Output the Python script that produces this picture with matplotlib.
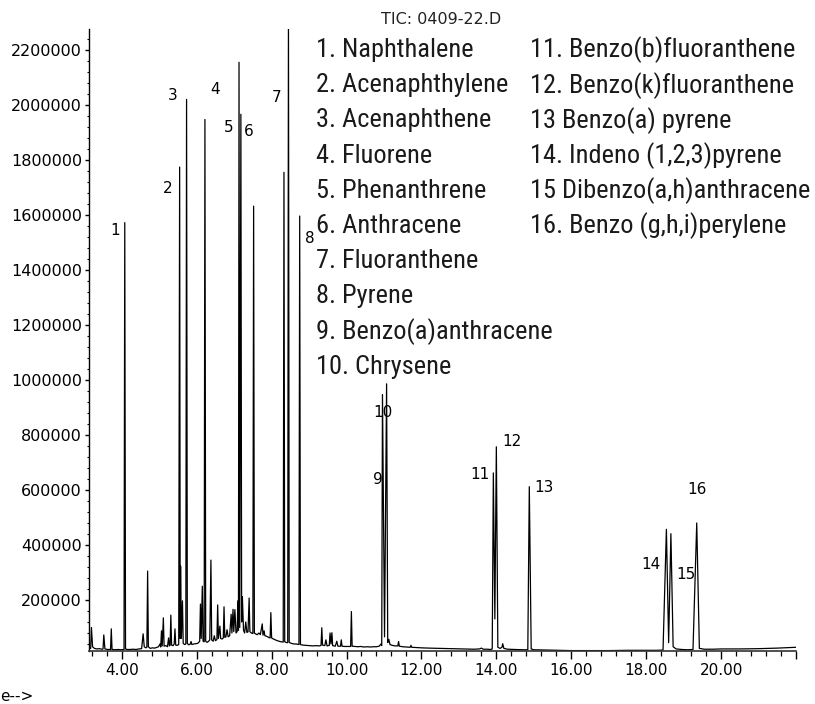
import numpy as np
import matplotlib
matplotlib.use("Agg")
import matplotlib.pyplot as plt
from matplotlib import font_manager
from matplotlib.ticker import MultipleLocator, FixedLocator, FixedFormatter, FuncFormatter

# TIC trace, vertices (time in min, abundance in thousands)
rt = [3.12, 3.17, 3.19, 3.22, 3.27, 3.33, 3.40, 3.47, 3.50, 3.52, 3.55, 3.62, 3.70, 3.72, 3.74, 3.82,
      3.90, 3.98, 4.06, 4.08, 4.10, 4.14, 4.22, 4.30, 4.38, 4.46, 4.53, 4.57, 4.60, 4.64, 4.67, 4.69,
      4.71, 4.76, 4.82, 4.88, 4.94, 4.98, 5.02, 5.04, 5.06, 5.08, 5.11, 5.13, 5.18, 5.22, 5.25, 5.27,
      5.29, 5.31, 5.33, 5.37, 5.40, 5.42, 5.44, 5.48, 5.52, 5.545, 5.56, 5.57, 5.59, 5.62, 5.64, 5.68,
      5.71, 5.73, 5.75, 5.79, 5.83, 5.85, 5.87, 5.92, 5.97, 6.02, 6.05, 6.08, 6.10, 6.12, 6.15, 6.17,
      6.20, 6.22, 6.24, 6.28, 6.32, 6.35, 6.38, 6.40, 6.44, 6.47, 6.50, 6.54, 6.56, 6.58, 6.62, 6.64,
      6.68, 6.71, 6.73, 6.75, 6.78, 6.81, 6.84, 6.88, 6.92, 6.94, 6.97, 6.99, 7.02, 7.05, 7.08, 7.10,
      7.115, 7.13, 7.15, 7.18, 7.20, 7.22, 7.25, 7.28, 7.31, 7.34, 7.37, 7.40, 7.42, 7.46, 7.50, 7.52,
      7.54, 7.58, 7.62, 7.66, 7.70, 7.75, 7.77, 7.80, 7.82, 7.87, 7.92, 7.96, 7.98, 8.00, 8.05, 8.10,
      8.15, 8.20, 8.25, 8.31, 8.33, 8.35, 8.40, 8.43, 8.45, 8.47, 8.53, 8.60, 8.66, 8.73, 8.75, 8.77,
      8.83, 8.92, 9.00, 9.10, 9.20, 9.28, 9.32, 9.34, 9.36, 9.42, 9.45, 9.48, 9.54, 9.56, 9.585, 9.61,
      9.63, 9.70, 9.74, 9.77, 9.84, 9.86, 9.88, 9.95, 10.04, 10.11, 10.13, 10.15, 10.22, 10.30, 10.38,
      10.46, 10.55, 10.63, 10.72, 10.80, 10.87, 10.92, 10.94, 10.96, 11.015, 11.07, 11.10, 11.13, 11.16,
      11.22, 11.30, 11.37, 11.39, 11.41, 11.50, 11.60, 11.70, 11.72, 11.74, 11.85, 12.0, 12.2, 12.5,
      12.8, 13.1, 13.4, 13.55, 13.60, 13.65, 13.75, 13.85, 13.89, 13.92, 13.96, 14.00, 14.04, 14.10,
      14.15, 14.17, 14.20, 14.30, 14.50, 14.70, 14.84, 14.88, 14.93, 15.00, 15.3, 15.6, 16.0, 16.5,
      17.0, 17.5, 18.0, 18.3, 18.45, 18.54, 18.60, 18.66, 18.72, 18.80, 18.95, 19.10, 19.25, 19.35,
      19.42, 19.55, 19.8, 20.0, 20.5, 21.0, 21.5, 22.0]
abund_k = [26, 24, 100, 30, 24, 22, 23, 21, 22, 73, 22, 20, 20, 95, 20, 19,
           20, 19, 20, 1572, 22, 20, 20, 21, 20, 22, 23, 77, 30, 26, 28, 305,
           30, 24, 26, 25, 28, 30, 40, 29, 88, 33, 135, 32, 34, 30, 62, 33,
           35, 145, 36, 34, 40, 95, 36, 35, 38, 1774, 60, 323, 60, 197, 42, 38,
           40, 2020, 42, 37, 40, 49, 38, 40, 41, 42, 45, 50, 185, 60, 250, 50,
           48, 1947, 50, 46, 50, 55, 345, 55, 50, 70, 52, 56, 182, 60, 105, 60,
           58, 62, 175, 64, 66, 92, 66, 70, 148, 80, 166, 85, 165, 80, 85, 197,
           90, 2155, 100, 1966, 120, 212, 90, 80, 120, 82, 84, 207, 85, 80, 78, 1632,
           80, 76, 74, 80, 74, 113, 72, 88, 70, 68, 64, 62, 154, 62, 58, 55,
           52, 50, 48, 47, 1755, 48, 45, 45, 2350, 46, 42, 40, 40, 38, 1596, 38,
           36, 35, 34, 33, 34, 33, 35, 99, 36, 34, 55, 33, 35, 80, 40, 81,
           34, 32, 50, 32, 32, 55, 32, 31, 31, 31, 158, 32, 31, 30, 31,
           29, 30, 29, 30, 30, 32, 40, 34, 947, 66, 986, 45, 57, 38,
           35, 33, 33, 49, 32, 30, 29, 28, 35, 28, 27, 26, 25, 24,
           23, 22, 21, 22, 25, 21, 21, 20, 22, 662, 131, 757, 28, 24,
           28, 41, 24, 21, 20, 19, 19, 612, 22, 19, 18, 17, 16, 16,
           16, 17, 17, 17, 18, 457, 45, 441, 30, 22, 20, 19, 20, 480,
           24, 21, 21, 22, 22, 23, 25, 28]

# peak numbers and where they are written
peak_ids = ["1", "2", "3", "4", "5", "6", "7", "8", "9", "10", "11", "12", "13", "14", "15", "16"]
label_rt = [3.82, 5.23, 5.37, 6.49, 6.85, 7.40, 8.12, 9.03, 10.84, 10.96, 13.55, 14.41, 15.27, 18.13, 19.05, 19.35]
label_y = [1542000, 1697000, 2034000, 2056000, 1918000, 1902000, 2026000, 1514000,
           638000, 883000, 658000, 775000, 610000, 329000, 293000, 600000]

compounds_a = ["1. Naphthalene", "2. Acenaphthylene", "3. Acenaphthene", "4. Fluorene",
               "5. Phenanthrene", "6. Anthracene", "7. Fluoranthene", "8. Pyrene",
               "9. Benzo(a)anthracene", "10. Chrysene"]
compounds_b = ["11. Benzo(b)fluoranthene", "12. Benzo(k)fluoranthene", "13 Benzo(a) pyrene",
               "14. Indeno (1,2,3)pyrene", "15 Dibenzo(a,h)anthracene", "16. Benzo (g,h,i)perylene"]

x_major = [4, 6, 8, 10, 12, 14, 16, 18, 20, 22]
x_labels = ["4.00", "6.00", "8.00", "10.00", "12.00", "14.00", "16.00", "18.00", "20.00", ""]
y_major = list(range(200000, 2200001, 200000))

# a narrow sans for the compound list if there is one, else Liberation Sans
names = {f.name for f in font_manager.fontManager.ttflist}
leg_font = "Liberation Sans"
for cand in ["Liberation Sans Narrow", "DejaVu Sans Condensed", "Roboto Condensed",
             "Open Sans Condensed", "Noto Sans Condensed"]:
    if cand in names:
        leg_font = cand
        break

W, H = 815, 704
fig = plt.figure(figsize=(W / 100, H / 100), dpi=100)
ax = fig.add_axes([89 / W, (H - 651) / H, (796 - 89) / W, (651 - 29) / H])

# size the list so the widest line spans like in the picture
renderer = fig.canvas.get_renderer()
probe = fig.text(0, 0, compounds_b[4], fontsize=10, family=leg_font)
w10 = probe.get_window_extent(renderer).width
probe.remove()
leg_size = 10 * 279 / w10

ax.plot(rt, np.array(abund_k) * 1000, color="black", lw=0.9)
ax.set_xlim(3.125, 22.0)
ax.set_ylim(14500, 2276000)

for s in ["top", "right"]:
    ax.spines[s].set_visible(False)
ax.spines["left"].set_linewidth(1.0)
ax.spines["bottom"].set_linewidth(1.2)
ax.spines["bottom"].set_color("#333333")

ax.xaxis.set_major_locator(FixedLocator(x_major))
ax.xaxis.set_major_formatter(FixedFormatter(x_labels))
ax.xaxis.set_minor_locator(MultipleLocator(0.4))
ax.yaxis.set_major_locator(FixedLocator(y_major))
ax.yaxis.set_minor_locator(MultipleLocator(40000))
ax.yaxis.set_major_formatter(FuncFormatter(lambda v, p: "%d" % v))

ax.tick_params(axis="x", which="major", direction="out", length=5.5, width=1, pad=3, labelsize=11)
ax.tick_params(axis="x", which="minor", direction="out", length=3.5, width=0.9)
ax.tick_params(axis="y", which="major", direction="out", length=3, width=1, pad=2, labelsize=11.5)
ax.tick_params(axis="y", which="minor", direction="out", length=1.5, width=0.8)
for lab in ax.get_xticklabels() + ax.get_yticklabels():
    lab.set_fontfamily("DejaVu Sans")

for pid, lx, ly in zip(peak_ids, label_rt, label_y):
    ax.text(lx, ly, pid, ha="center", va="center", fontsize=11, family="DejaVu Sans")

fig.text(441 / W, 1 - 20 / H, "TIC: 0409-22.D", ha="center", va="center",
         fontsize=11.5, family="DejaVu Sans", color="#222222")

for i, name in enumerate(compounds_a):
    fig.text(316 / W, 1 - (50 + 35.2 * i) / H, name, ha="left", va="center",
             fontsize=leg_size, family=leg_font, color="#1a1a1a")
for i, name in enumerate(compounds_b):
    fig.text(530 / W, 1 - (50 + 35.2 * i) / H, name, ha="left", va="center",
             fontsize=leg_size, family=leg_font, color="#1a1a1a")

fig.text(0.0, 3 / H, "e-->", ha="left", va="baseline", fontsize=11, family="DejaVu Sans")

fig.savefig("out.png", dpi=100)
